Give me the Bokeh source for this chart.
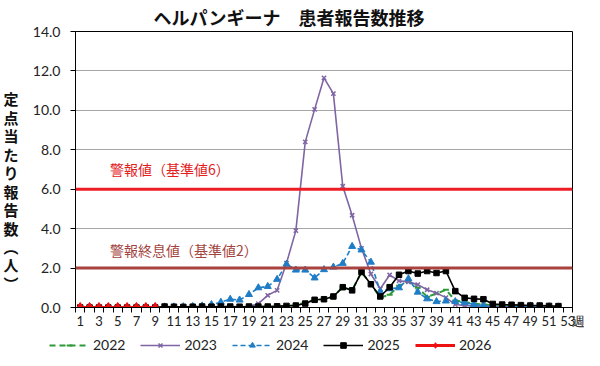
from bokeh.plotting import figure
from bokeh.layouts import column
from bokeh.models import (Span, Label, Legend, LegendItem, FixedTicker, Range1d,
                          NumeralTickFormatter, LinearAxis)
from bokeh.embed import file_html
from bokeh.resources import INLINE

weeks = list(range(1, 53))
weeks_2026 = list(range(1, 10))
tick_weeks = list(range(1, 54))

y2022 = [0.0, 0.0, 0.0, 0.0, 0.0, 0.0, 0.0, 0.0, 0.0, 0.0,
         0.0, 0.0, 0.0, 0.0, 0.0, 0.0, 0.0, 0.0, 0.02, 0.03,
         0.05, 0.05, 0.08, 0.12, 0.25, 0.39, 0.42, 0.56, 1.03, 0.87,
         1.8, 1.18, 0.5, 0.65, 1.1, 1.3, 1.0, 0.55, 0.7, 0.9,
         0.35, 0.28, 0.2, 0.15, 0.12, 0.1, 0.08, 0.06, 0.05, 0.05,
         0.04, 0.03]
y2023 = [0.0, 0.0, 0.0, 0.0, 0.0, 0.0, 0.0, 0.0, 0.0, 0.0,
         0.0, 0.0, 0.0, 0.0, 0.0, 0.0, 0.0, 0.0, 0.05, 0.2,
         0.62, 0.87, 2.25, 3.9, 8.4, 10.05, 11.65, 10.85, 6.15, 4.68,
         3.0, 1.7, 0.95, 1.65, 1.35, 1.3, 1.16, 0.9, 0.73, 0.5,
         0.15, 0.1, 0.08, 0.05, 0.05, 0.04, 0.03, 0.03, 0.02, 0.02,
         0.02, 0.02]
y2024 = [0.02, 0.02, 0.02, 0.02, 0.02, 0.02, 0.02, 0.02, 0.03, 0.03,
         0.03, 0.04, 0.05, 0.08, 0.15, 0.27, 0.42, 0.38, 0.66, 1.0,
         1.07, 1.43, 2.2, 1.9, 1.9, 1.5, 1.92, 2.05, 2.24, 3.1,
         2.92, 2.3, 0.8, 0.95, 1.0, 1.46, 0.78, 0.44, 0.3, 0.33,
         0.3, 0.25, 0.15, 0.1, 0.08, 0.06, 0.05, 0.05, 0.08, 0.05,
         0.04, 0.03]
y2025 = [0.0, 0.0, 0.0, 0.0, 0.0, 0.0, 0.0, 0.0, 0.0, 0.05,
         0.04, 0.03, 0.04, 0.05, 0.04, 0.05, 0.05, 0.04, 0.05, 0.05,
         0.05, 0.06, 0.08, 0.1, 0.2, 0.39, 0.42, 0.56, 1.03, 0.87,
         1.8, 1.18, 0.56, 1.03, 1.66, 1.85, 1.72, 1.85, 1.75, 1.85,
         0.83, 0.49, 0.44, 0.42, 0.18, 0.15, 0.14, 0.12, 0.1, 0.1,
         0.08, 0.07]
y2026 = [0.0, 0.0, 0.0, 0.0, 0.0, 0.0, 0.0, 0.0, 0.0]

series_names = ["2022", "2023", "2024", "2025", "2026"]
y_ticks = [0, 2, 4, 6, 8, 10, 12, 14]
alert_level = 6.0
end_level = 2.0
y_label_chars = ["定", "点", "当", "た", "り", "報", "告", "数", "︵", "人", "︶"]
x_unit_label = "週"

JP = "Noto Sans CJK JP"
NUM = "Lato"

x_start, x_end = 0.5, 53.5

p = figure(width=584, height=336, output_backend="svg", toolbar_location=None,
           x_range=Range1d(x_start, x_end), y_range=Range1d(0, 14),
           min_border_left=75, min_border_right=12, min_border_top=24, min_border_bottom=29)
p.background_fill_color = "white"
p.border_fill_color = "white"
p.outline_line_color = "black"
p.outline_line_width = 1

p.title.text = "ヘルパンギーナ　患者報告数推移"
p.title.text_font = JP
p.title.text_font_size = "18px"
p.title.text_font_style = "bold"
p.title.text_color = "#111111"
p.title.align = "left"
p.title.offset = 78
p.title.standoff = 3

p.xgrid.visible = False
p.ygrid.ticker = FixedTicker(ticks=y_ticks)
p.ygrid.grid_line_color = "#a6a6a6"
p.ygrid.grid_line_width = 1

p.yaxis.ticker = FixedTicker(ticks=y_ticks)
p.yaxis.formatter = NumeralTickFormatter(format="0.0")
p.yaxis.major_label_text_font = NUM
p.yaxis.major_label_text_font_size = "14px"
p.yaxis.major_label_text_color = "#222222"
p.yaxis.major_label_standoff = 10
p.yaxis.major_tick_out = 5
p.yaxis.major_tick_in = 0
p.yaxis.minor_tick_line_color = None
p.yaxis.axis_line_color = "black"

# vertical (stacked) y-axis title as an extra label-only axis
n = len(y_label_chars)
p.extra_y_ranges = {"ylab": Range1d(-1.304, 13.64)}
ylab_axis = LinearAxis(y_range_name="ylab",
                       ticker=FixedTicker(ticks=list(range(n))),
                       major_label_overrides={n - 1 - i: ch for i, ch in enumerate(y_label_chars)})
ylab_axis.axis_line_color = None
ylab_axis.major_tick_line_color = None
ylab_axis.minor_tick_line_color = None
ylab_axis.major_tick_out = 0
ylab_axis.major_tick_in = 0
ylab_axis.minor_tick_out = 0
ylab_axis.minor_tick_in = 0
ylab_axis.major_label_standoff = 11
ylab_axis.major_label_text_font = JP
ylab_axis.major_label_text_font_size = "15px"
ylab_axis.major_label_text_font_style = "bold"
ylab_axis.major_label_text_color = "#111111"
p.add_layout(ylab_axis, "left")

boundaries = [w - 0.5 for w in tick_weeks] + [x_end]
labels = {w: (str(w) if w % 2 == 1 else "") for w in tick_weeks}
labels[x_end] = "\u3000\u2002" + x_unit_label
p.xaxis.ticker = FixedTicker(ticks=tick_weeks + [x_end], minor_ticks=boundaries)
p.xaxis.major_label_overrides = labels
p.xaxis.major_label_text_font = NUM
p.xaxis.major_label_text_font_size = "13px"
p.xaxis.major_label_text_color = "#222222"
p.xaxis.major_label_standoff = 0
p.xaxis.major_tick_out = 0
p.xaxis.major_tick_in = 0
p.xaxis.minor_tick_out = 5
p.xaxis.minor_tick_in = 0
p.xaxis.minor_tick_line_color = "black"
p.xaxis.axis_line_color = "black"

p.add_layout(Span(location=alert_level, dimension="width", line_color="#ee1c25", line_width=3))
p.add_layout(Span(location=end_level, dimension="width", line_color="#a8433f", line_width=3))

c22, c23, c24, c25, c26 = "#2e9a3a", "#7f65a3", "#1f7dc6", "#000000", "#ee1111"
styles = [
    dict(line=dict(line_color=c22, line_width=2, line_dash="6 4"),
         mark=dict(marker="dash", size=6, line_color=c22, line_width=2)),
    dict(line=dict(line_color=c23, line_width=1.6),
         mark=dict(marker="x", size=6, line_color=c23, line_width=1.5)),
    dict(line=dict(line_color=c24, line_width=1.6, line_dash="5 3"),
         mark=dict(marker="triangle", size=7, fill_color=c24, line_color=c24)),
    dict(line=dict(line_color=c25, line_width=1.6),
         mark=dict(marker="square", size=5.5, fill_color=c25, line_color=c25)),
    dict(line=dict(line_color=c26, line_width=3),
         mark=dict(marker="diamond", size=10, fill_color=c26, line_color=c26)),
]
series = [(weeks, y2022), (weeks, y2023), (weeks, y2024), (weeks, y2025), (weeks_2026, y2026)]

for (xs, ys), st in zip(series, styles):
    p.line(xs, ys, **st["line"])
    p.scatter(xs, ys, **st["mark"])

p.add_layout(Label(x=4.18, y=7.05, text="警報値（基準値6）", text_font=JP, text_font_size="14px",
                   text_color="#e3211c", text_baseline="middle"))
p.add_layout(Label(x=4.18, y=2.9, text="警報終息値（基準値2）", text_font=JP, text_font_size="14px",
                   text_color="#a3443e", text_baseline="middle"))

# legend strip below the chart (its series sit outside this strip's visible range)
q = figure(width=584, height=17, output_backend="svg", toolbar_location=None,
           x_range=Range1d(-20, -19), y_range=Range1d(-20, -19),
           x_axis_type=None, y_axis_type=None,
           min_border=0, min_border_left=0, min_border_right=0, min_border_top=0, min_border_bottom=0)
q.outline_line_color = None
q.background_fill_color = "white"
q.border_fill_color = "white"
legend_x = 0
if "frame_align" in q.properties():
    q.frame_align = False
    p.frame_align = False
    legend_x = 49
items = []
for name, (xs, ys), st in zip(series_names, series, styles):
    rl = q.line(xs, ys, **st["line"])
    rm = q.scatter(xs, ys, **st["mark"])
    items.append(LegendItem(label=name, renderers=[rl, rm]))
legend = Legend(items=items, orientation="horizontal", location=(legend_x, 0))
legend.border_line_color = None
legend.background_fill_alpha = 0
legend.label_text_font = NUM
legend.label_text_font_size = "14px"
legend.label_text_color = "#222222"
legend.glyph_width = 40
legend.glyph_height = 14
legend.spacing = 15
legend.label_standoff = 4
legend.padding = 0
legend.margin = 0
q.add_layout(legend, "center")

open("out.html", "w").write(file_html(column(p, q, spacing=0), INLINE))
